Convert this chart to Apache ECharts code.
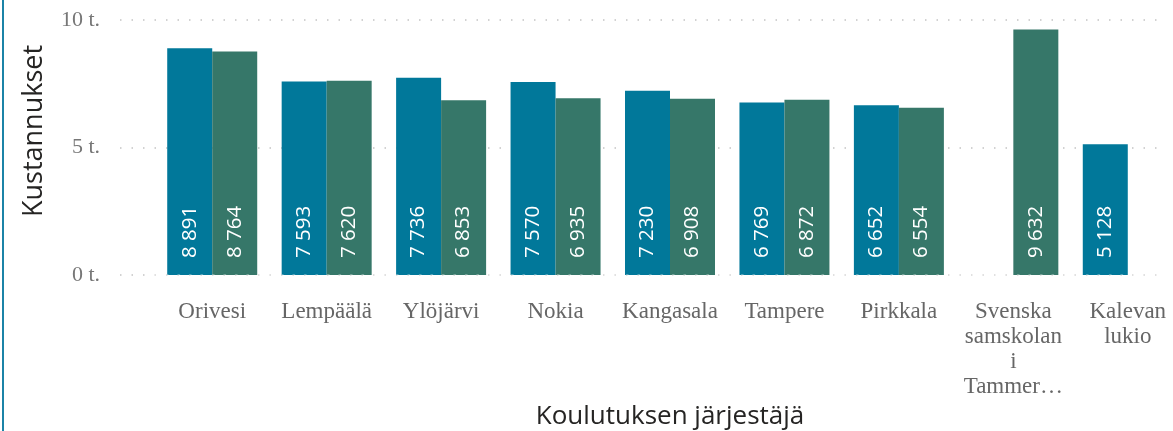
<!DOCTYPE html>
<html>
	<head>
		<meta charset="UTF-8">
		<title>Kustannukset</title>
		<script src="https://cdn.jsdelivr.net/npm/echarts@6/dist/echarts.min.js"></script>
		<style>
			html,
			body {
				margin: 0px;
				padding: 0px;
				height: 100%;
				width: 100%;
				overflow: hidden;
				background: #ffffff;
			}
			#main {
				height: 431px;
				width: 1173px;
			}
			#frame {
				position: absolute;
				left: 2px;
				top: 0px;
				width: 2px;
				height: 431px;
				background: #1b83a7;
			}
		</style>
	</head>
	<body>
		<div id="main"></div>
		<div id="frame"></div>
		<script>
			// data
			var categories = ['Orivesi', 'Lempäälä', 'Ylöjärvi', 'Nokia', 'Kangasala', 'Tampere', 'Pirkkala',
				'Svenska\nsamskolan\ni\nTammer…', 'Kalevan\nlukio'];
			var blueValues = [8891, 7593, 7736, 7570, 7230, 6769, 6652, null, 5128];
			var greenValues = [8764, 7620, 6853, 6935, 6908, 6872, 6554, 9632, null];
			var yTicks = [0, 5000, 10000];

			var blue = '#01789a';
			var green = '#367769';
			var dots = [1.5, 10];

			function thousands(v) {
				return String(v).replace(/\B(?=(\d{3})+(?!\d))/g, ' ');
			}

			function barLabel() {
				return {
					show: true,
					position: 'insideBottom',
					rotate: 90,
					align: 'left',
					verticalAlign: 'middle',
					distance: 17,
					color: '#ffffff',
					fontFamily: 'Open Sans',
					fontSize: 20.5,
					formatter: function (p) {
						return thousands(p.value);
					}
				};
			}

			var chart = echarts.init(document.getElementById('main'));
			var option = {
				animation: false,
				grid: [{
					left: 155,
					right: -12,
					top: 20,
					bottom: 156,
					outerBoundsMode: 'none'
				}, {
					left: 120,
					right: 8,
					top: 20,
					bottom: 156,
					outerBoundsMode: 'none'
				}],
				xAxis: [{
					type: 'category',
					gridIndex: 0,
					data: categories,
					z: 5,
					axisTick: {show: false},
					axisLine: {
						show: true,
						lineStyle: {color: 'rgba(255,255,255,0.45)', width: 1.5, type: dots}
					},
					axisLabel: {
						margin: 24,
						color: '#666666',
						fontFamily: 'Liberation Serif',
						fontSize: 23,
						lineHeight: 25,
						interval: 0
					},
					name: 'Koulutuksen järjestäjä',
					nameLocation: 'middle',
					nameGap: 127,
					nameTextStyle: {
						color: '#252423',
						fontFamily: 'Open Sans',
						fontSize: 26
					}
				}, {
					type: 'category',
					gridIndex: 1,
					data: categories,
					show: false
				}],
				yAxis: [{
					type: 'value',
					gridIndex: 0,
					min: 0,
					max: 10000,
					interval: 5000,
					show: false,
					splitLine: {show: false}
				}, {
					type: 'value',
					gridIndex: 1,
					min: yTicks[0],
					max: yTicks[yTicks.length - 1],
					interval: yTicks[1] - yTicks[0],
					axisLine: {show: false},
					axisTick: {show: false},
					axisLabel: {
						margin: 20,
						color: '#777777',
						fontFamily: 'Liberation Serif',
						fontSize: 22,
						formatter: function (v) {
							return (v / 1000) + ' t.';
						}
					},
					splitLine: {
						lineStyle: {color: '#c4c4c4', width: 1.5, type: dots}
					},
					name: 'Kustannukset',
					nameLocation: 'middle',
					nameGap: 72,
					nameTextStyle: {
						color: '#252423',
						fontFamily: 'Open Sans',
						fontSize: 27,
						padding: [0, 0, 0, 33]
					}
				}],
				series: [{
					name: 'Sarja 1',
					type: 'bar',
					xAxisIndex: 0,
					yAxisIndex: 0,
					data: blueValues,
					barWidth: 45,
					barGap: '0%',
					itemStyle: {color: blue},
					label: barLabel()
				}, {
					name: 'Sarja 2',
					type: 'bar',
					xAxisIndex: 0,
					yAxisIndex: 0,
					data: greenValues,
					barWidth: 45,
					barGap: '0%',
					itemStyle: {color: green},
					label: barLabel()
				}]
			};
			chart.setOption(option);
			window.onresize = function (ev) {
				chart.resize();
			};
		</script>
	</body>
</html>
